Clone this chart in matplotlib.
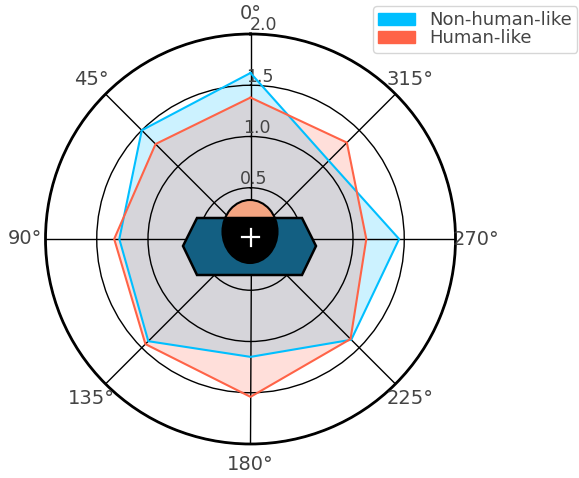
import numpy as np
import matplotlib
matplotlib.use("Agg")
import matplotlib.pyplot as plt
from matplotlib.patches import Ellipse, Polygon

# angle of each spoke, degrees
angles = [0, 45, 90, 135, 180, 225, 270, 315]
non_human = [1.62, 1.50, 1.28, 1.41, 1.15, 1.39, 1.45, 1.08]
human = [1.38, 1.31, 1.33, 1.45, 1.54, 1.38, 1.13, 1.33]
r_ticks = [0.5, 1.0, 1.5, 2.0]

W, H = 579, 478
text_col = "#444444"

fig = plt.figure(figsize=(W / 100, H / 100), dpi=100)
ax = fig.add_axes([45.5 / W, (H - 444) / H, 410 / W, 410 / H], projection="polar")
ax.set_theta_zero_location("N")
ax.set_theta_direction(1)
ax.set_ylim(0, 2.0)

theta = np.deg2rad(angles + angles[:1])
for vals, col, lab in [(non_human, "deepskyblue", "Non-human-like"), (human, "tomato", "Human-like")]:
    r = vals + vals[:1]
    ax.fill(theta, r, color=col, alpha=0.2, lw=0, zorder=2)
    ax.plot(theta, r, color=col, lw=1.5, zorder=3)
    ax.fill([], [], color=col, label=lab)

ax.set_thetagrids(angles, [f"{a}°" for a in angles], fontsize=14, color=text_col)
ax.tick_params(axis="x", pad=4)
ax.set_rgrids(r_ticks, [f"{t:.1f}" for t in r_ticks], angle=-3.5, fontsize=12.5, color=text_col)
ax.set_rlabel_position(-3.5)
for t in ax.yaxis.get_ticklabels():
    t.set_ha("center")
    t.set_va("bottom")
ax.grid(True, color="black", lw=1.0, zorder=1)
ax.spines["polar"].set_linewidth(2.0)
ax.set_axisbelow(False)

# head and shoulders marker, drawn in pixel coordinates
ov = fig.add_axes([0, 0, 1, 1], facecolor="none")
ov.set_xlim(0, W)
ov.set_ylim(H, 0)
ov.axis("off")
ov.add_patch(Ellipse((250, 231.5), 55, 63, fc="#f4a582", ec="black", lw=1.5, zorder=1))
ov.add_patch(Polygon([(183, 246), (197, 218), (302, 218), (316, 246), (302, 275), (197, 275)],
                     closed=True, fc="#135f82", ec="black", lw=1.8, zorder=2))
black = Ellipse((250, 231.5), 55, 63, fc="black", ec="black", lw=1.5, zorder=3)
ov.add_patch(black)
clip = plt.Rectangle((200, 219), 100, 60, transform=ov.transData)
black.set_clip_path(clip)
ov.plot([242, 259], [237, 237], color="white", lw=1.6, zorder=4)
ov.plot([250.5, 250.5], [228.5, 245.5], color="white", lw=1.6, zorder=4)

leg = fig.legend(loc="upper right", bbox_to_anchor=(1.003, 0.995), fontsize=13, labelcolor=text_col,
                 borderaxespad=0.2, labelspacing=0.0, handlelength=2.05, handletextpad=0.75,
                 borderpad=0.3)

fig.savefig("out.png", dpi=100)
